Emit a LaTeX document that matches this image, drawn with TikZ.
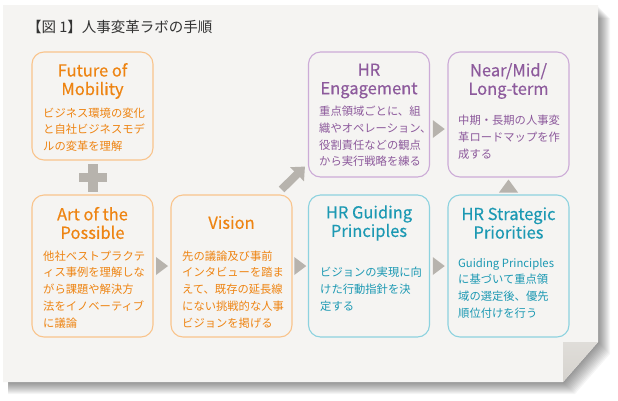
\documentclass[tikz,border=0pt]{standalone}
\usepackage{fontspec}
\setmainfont{Noto Sans CJK JP}
\newfontfamily\titlefont{Noto Sans CJK JP}[FakeBold=0.4]
\usetikzlibrary{arrows.meta,calc}
\definecolor{paper}{HTML}{F5F4F2}
\definecolor{flap}{HTML}{D6D3CE}
\definecolor{tipgray}{HTML}{B7B3AD}
\definecolor{ortext}{HTML}{EE8412}
\definecolor{orline}{HTML}{F9C48C}
\definecolor{putext}{HTML}{8D5A9C}
\definecolor{puline}{HTML}{CCABD7}
\definecolor{cytext}{HTML}{1C99B3}
\definecolor{cyline}{HTML}{8DD2DF}
\definecolor{headtext}{HTML}{333333}

\begin{document}
\begin{tikzpicture}[x=1pt,y=-1pt]
\tikzset{
  stepbox/.style={draw=#1,rounded corners=12pt,line width=1.1pt,fill=paper,minimum width=121pt,inner sep=0pt},
  boxtitle/.style={text=#1,font=\titlefont\fontsize{16.5}{18.5}\selectfont,align=center,inner sep=0pt},
  boxbody/.style={text=#1,font=\fontsize{11.3}{16.7}\selectfont,align=left,anchor=north west,inner sep=0pt},
  tipfill/.style={fill=tipgray}
}
\useasboundingbox (0,0) rectangle (618,400);
\fill[white] (0,0) rectangle (618,400);
% sheet with shadow and folded corner
\foreach \d in {1,...,12}
  \fill[black,opacity=0.04] (10+\d,6+\d) -- (598+\d,6+\d) -- (598+\d,342+\d) -- (563+\d,382+\d) -- (8,382+\d) -- cycle;
\fill[paper] (3,5) -- (598,5) -- (598,342) -- (563,382) -- (3,382) -- cycle;
\shade[top color=flap!70!paper,bottom color=flap] (563,342) -- (598,342) -- (563,382) -- cycle;
\node[anchor=west,text=headtext,font=\fontsize{14.5}{16}\selectfont,inner sep=0pt] (n_head) at (27,27) {【図 1】人事変革ラボの手順};

% boxes
\node[stepbox=orline,minimum height=108pt] (n_fom) at (92.5,106) {};
\node[boxtitle=ortext] (n_fom_t) at (92.5,81) {Future of\\Mobility};
\node[boxbody=ortext] (n_fom_b) at (43,107.5) {ビジネス環境の変化\\と自社ビジネスモデ\\ルの変革を理解};

\node[stepbox=orline,minimum height=142pt] (n_art) at (92.5,266) {};
\node[boxtitle=ortext] (n_art_t) at (92.5,223) {Art of the\\Possible};
\node[boxbody=ortext] (n_art_b) at (43,250.5) {他社ベストプラクテ\\ィス事例を理解しな\\がら課題や解決方\\法をイノベーティブ\\に議論};

\node[stepbox=orline,minimum height=142pt] (n_vis) at (231.5,266) {};
\node[boxtitle=ortext] (n_vis_t) at (231.5,222.5) {Vision};
\node[boxbody=ortext] (n_vis_b) at (182,250.5) {先の議論及び事前\\インタビューを踏ま\\えて、既存の延長線\\にない挑戦的な人事\\ビジョンを掲げる};

\node[stepbox=cyline,minimum height=142pt] (n_gui) at (369,266) {};
\node[boxtitle=cytext] (n_gui_t) at (369,223) {HR Guiding\\Principles};
\node[boxbody=cytext] (n_gui_b) at (320,267) {ビジョンの実現に向\\けた行動指針を決\\定する};

\node[stepbox=cyline,minimum height=142pt] (n_str) at (508.5,266) {};
\node[boxtitle=cytext] (n_str_t) at (508.5,223) {HR Strategic\\Priorities};
\node[boxbody=cytext] (n_str_b) at (458,258) {Guiding Principles\\に基づいて重点領\\域の選定後、優先\\順位付けを行う};

\node[stepbox=puline,minimum height=125pt] (n_eng) at (369,114.5) {};
\node[boxtitle=putext] (n_eng_t) at (369,81) {HR\\Engagement};
\node[boxbody=putext] (n_eng_b) at (319,106) {重点領域ごとに、組\\織やオペレーション、\\役割責任などの観点\\から実行戦略を練る};

\node[stepbox=puline,minimum height=125pt] (n_nmt) at (508.5,114.5) {};
\node[boxtitle=putext] (n_nmt_t) at (508.5,81) {Near/Mid/\\Long-term};
\node[boxbody=putext] (n_nmt_b) at (458,115) {中期・長期の人事変\\革ロードマップを作\\成する};

% connectors
\coordinate (c_plus) at ($(n_fom.south)!0.5!(n_art.north)$);
\fill[tipfill] (c_plus) ++(-14,-4.5) rectangle ++(28,9);
\fill[tipfill] (c_plus) ++(-5,-14) rectangle ++(10,28);
\coordinate (c_av) at ($(n_art.east)!0.5!(n_vis.west)$);
\coordinate (c_vg) at ($(n_vis.east)!0.5!(n_gui.west)$);
\coordinate (c_gs) at ($(n_gui.east)!0.5!(n_str.west)$);
\coordinate (c_en) at ($(n_eng.east)!0.5!(n_nmt.west)+(0,14.5)$);
\foreach \c in {c_av,c_vg,c_gs,c_en}
  \fill[tipfill] (\c) ++(-6,-9) -- ++(12,9) -- ++(-12,9) -- cycle;
\coordinate (c_sn) at ($(n_nmt.south)!0.5!(n_str.north)$);
\fill[tipfill] (c_sn) ++(-9.5,6.5) -- ++(9.5,-13) -- ++(9.5,13) -- cycle;
\draw[tipgray,line width=8pt,-{Triangle[length=11pt,width=19pt]}]
  ($(n_vis.north east)+(-11,-5)$) -- ($(n_eng.south west)+(-3,-11)$);
\end{tikzpicture}
\end{document}
